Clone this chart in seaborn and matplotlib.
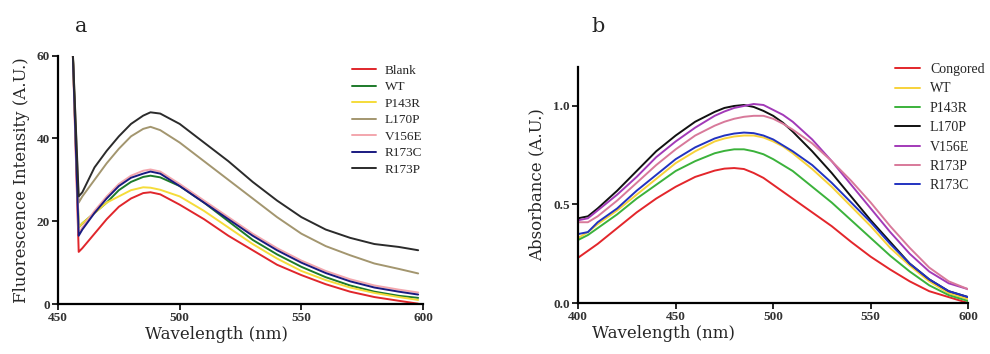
import numpy as np
import pandas as pd
import matplotlib
matplotlib.use("Agg")
import matplotlib.pyplot as plt
import seaborn as sns

# panel a: fluorescence spectra (wavelength nm, intensity A.U.)
wl_a = [456, 458.5, 460, 465, 470, 475, 480, 485, 488, 492, 500, 510, 520, 530,
        540, 550, 560, 570, 580, 590, 598]
blank = [62, 12.6, 13.5, 17, 20.5, 23.5, 25.5, 26.8, 27, 26.5, 24, 20.5, 16.5, 13,
         9.5, 7, 4.8, 3, 1.7, 0.8, 0.1]
wt_a = [62, 18.5, 19.5, 22, 24.5, 27.5, 29.5, 30.7, 31, 30.6, 28.5, 24.5, 20, 15.5,
        12, 9, 6.5, 4.5, 3, 2, 1.5]
p143r_a = [62, 18.5, 19.5, 22, 24.5, 26, 27.5, 28.2, 28.1, 27.6, 26, 22.5, 18.5, 14.5,
           11, 8, 5.8, 4, 2.7, 1.7, 1.0]
l170p_a = [62, 24.5, 26, 30, 34, 37.5, 40.5, 42.3, 42.8, 42, 39, 34.5, 30, 25.5,
           21, 17, 14, 11.8, 9.8, 8.5, 7.4]
v156e_a = [62, 17, 18.5, 22.5, 26, 29, 31, 32.2, 32.5, 32, 29, 25, 21, 17,
           13.5, 10.5, 8, 6, 4.5, 3.5, 2.8]
r173c_a = [62, 16.5, 18, 22, 25.5, 28.5, 30.5, 31.5, 32, 31.5, 28.5, 24.5, 20.5, 16.5,
           13, 10, 7.5, 5.5, 4, 3, 2.3]
r173p_a = [62, 26, 27, 33, 37, 40.5, 43.5, 45.5, 46.3, 46, 43.5, 39, 34.5, 29.5,
           25, 21, 18, 16, 14.5, 13.8, 13]

names_a = ["Blank", "WT", "P143R", "L170P", "V156E", "R173C", "R173P"]
series_a = [blank, wt_a, p143r_a, l170p_a, v156e_a, r173c_a, r173p_a]
colors_a = ["#e0262b", "#1d7a2a", "#f5dc3a", "#a3966f", "#f3a6ad", "#1a1a80", "#2b2b2b"]

# panel b: absorbance spectra
wl_b = [400, 405, 410, 420, 430, 440, 450, 460, 470, 475, 480, 485, 490, 495, 500,
        505, 510, 520, 530, 540, 550, 560, 570, 580, 590, 600]
congored = [0.23, 0.265, 0.30, 0.38, 0.46, 0.53, 0.59, 0.64, 0.672, 0.682, 0.685, 0.68,
            0.66, 0.635, 0.60, 0.565, 0.53, 0.46, 0.39, 0.31, 0.235, 0.17, 0.11, 0.06,
            0.03, 0.0]
wt_b = [0.33, 0.36, 0.40, 0.47, 0.55, 0.63, 0.71, 0.77, 0.82, 0.835, 0.845, 0.85, 0.85,
        0.84, 0.82, 0.795, 0.76, 0.68, 0.59, 0.49, 0.39, 0.28, 0.19, 0.11, 0.05, 0.02]
p143r_b = [0.32, 0.345, 0.38, 0.45, 0.53, 0.60, 0.67, 0.72, 0.76, 0.772, 0.78, 0.78,
           0.77, 0.755, 0.73, 0.70, 0.67, 0.59, 0.51, 0.42, 0.33, 0.24, 0.16, 0.09,
           0.04, 0.01]
l170p_b = [0.43, 0.44, 0.48, 0.57, 0.67, 0.77, 0.85, 0.92, 0.97, 0.99, 1.0, 1.005,
           0.995, 0.975, 0.95, 0.915, 0.87, 0.77, 0.66, 0.54, 0.42, 0.31, 0.20, 0.12,
           0.06, 0.03]
v156e_b = [0.42, 0.43, 0.47, 0.55, 0.64, 0.74, 0.82, 0.89, 0.95, 0.972, 0.99, 1.0,
           1.01, 1.005, 0.98, 0.955, 0.92, 0.83, 0.72, 0.60, 0.48, 0.36, 0.25, 0.16,
           0.10, 0.07]
r173p_b = [0.41, 0.41, 0.44, 0.52, 0.61, 0.70, 0.78, 0.85, 0.90, 0.92, 0.935, 0.945,
           0.95, 0.95, 0.935, 0.91, 0.88, 0.81, 0.72, 0.62, 0.51, 0.39, 0.28, 0.18,
           0.11, 0.07]
r173c_b = [0.35, 0.36, 0.41, 0.48, 0.57, 0.65, 0.73, 0.79, 0.835, 0.85, 0.86, 0.865,
           0.862, 0.85, 0.83, 0.80, 0.77, 0.70, 0.61, 0.51, 0.41, 0.30, 0.20, 0.12,
           0.06, 0.03]

names_b = ["Congored", "WT", "P143R", "L170P", "V156E", "R173P", "R173C"]
series_b = [congored, wt_b, p143r_b, l170p_b, v156e_b, r173p_b, r173c_b]
colors_b = ["#e3262b", "#f7d23a", "#3bb23b", "#111111", "#a23ab8", "#d8799a", "#2233c0"]


def long_df(wl, names, series):
    rows = []
    for n, s in zip(names, series):
        for x, y in zip(wl, s):
            rows.append((n, x, y))
    return pd.DataFrame(rows, columns=["sample", "wl", "val"])


df_a = long_df(wl_a, names_a, series_a)
df_b = long_df(wl_b, names_b, series_b)

sns.set_style("ticks")
plt.rcParams["font.family"] = ["Liberation Serif", "DejaVu Serif"]

fig = plt.figure(figsize=(9.9, 3.54), dpi=100)
ax1 = fig.add_axes([0.0586, 0.141, 0.3687, 0.702])
ax2 = fig.add_axes([0.584, 0.144, 0.394, 0.668])

sns.lineplot(data=df_a, x="wl", y="val", hue="sample", hue_order=names_a,
             palette=dict(zip(names_a, colors_a)), ax=ax1, linewidth=1.4,
             estimator=None, sort=False)
sns.lineplot(data=df_b, x="wl", y="val", hue="sample", hue_order=names_b,
             palette=dict(zip(names_b, colors_b)), ax=ax2, linewidth=1.4,
             estimator=None, sort=False)

ax1.set_xlim(450, 600)
ax1.set_ylim(0, 60)
ax1.set_xticks([450, 500, 550, 600])
ax1.set_yticks([0, 20, 40, 60])
ax2.set_xlim(400, 600)
ax2.set_ylim(0, 1.2)
ax2.set_xticks([400, 450, 500, 550, 600])
ax2.set_yticks([0.0, 0.5, 1.0])
ax2.set_yticklabels(["0.0", "0.5", "1.0"])

lab_font = dict(family="DejaVu Serif", fontsize=12)
ax1.set_xlabel("Wavelength (nm)", **lab_font)
ax1.set_ylabel("Fluorescence Intensity (A.U.)", **lab_font)
ax2.set_xlabel("Wavelength (nm)", **lab_font)
ax2.set_ylabel("Absorbance (A.U.)", **lab_font)
ax1.xaxis.set_label_coords(0.433, -0.09)
ax2.xaxis.set_label_coords(0.218, -0.095)
ax1.yaxis.set_label_coords(-0.077, 0.5)
ax2.yaxis.set_label_coords(-0.085, 0.5)

for ax in (ax1, ax2):
    sns.despine(ax=ax)
    for sp in ("left", "bottom"):
        ax.spines[sp].set_linewidth(1.6)
        ax.spines[sp].set_color("black")
    ax.tick_params(width=1.4, length=4, labelsize=9.5, pad=2)
    for t in ax.get_xticklabels() + ax.get_yticklabels():
        t.set_fontweight("bold")
        t.set_color("#333333")

ax1.legend(loc="upper left", bbox_to_anchor=(0.805, 0.963), frameon=False,
           fontsize=9.5, handlelength=1.8, handletextpad=0.7, labelspacing=0.32,
           borderpad=0, borderaxespad=0)
ax2.legend(loc="upper left", bbox_to_anchor=(0.813, 1.015), frameon=False,
           fontsize=10, handlelength=1.8, handletextpad=0.7, labelspacing=0.46,
           borderpad=0, borderaxespad=0)

fig.text(0.076, 0.925, "a", fontsize=15, family="DejaVu Serif", ha="left", va="center")
fig.text(0.597, 0.925, "b", fontsize=15, family="DejaVu Serif", ha="left", va="center")

fig.savefig("out.png", dpi=100)
